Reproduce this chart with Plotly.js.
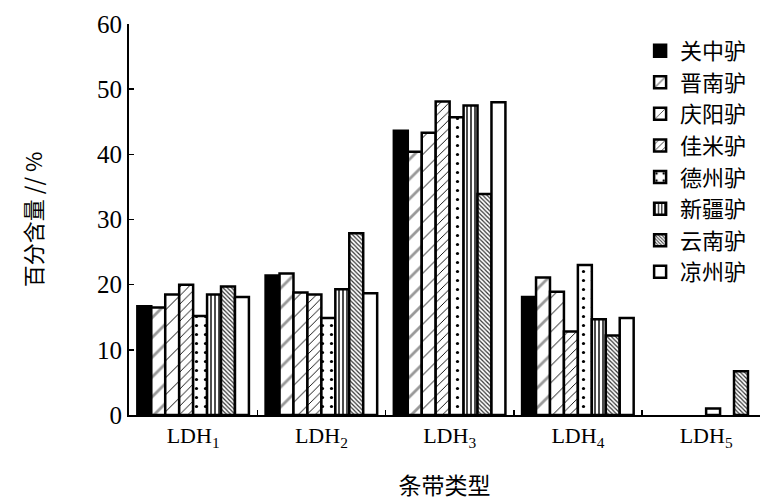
<!DOCTYPE html>
<html><head><meta charset="utf-8">
<script src="https://cdn.plot.ly/plotly-3.0.1.min.js"></script>
<style>html,body{margin:0;padding:0;background:#fff}#chart{width:768px;height:501px}</style>
</head><body><div id="chart"></div>
<script>
const categories = ["LDH<sub>1</sub>","LDH<sub>2</sub>","LDH<sub>3</sub>","LDH<sub>4</sub>","LDH<sub>5</sub>"];
const seriesNames = ["关中驴","晋南驴","庆阳驴","佳米驴","德州驴","新疆驴","云南驴","凉州驴"];
const guanzhong = [16.7, 21.4, 43.6, 18.1, null];
const jinnan    = [16.5, 21.7, 40.4, 21.1, null];
const qingyang  = [18.5, 18.8, 43.3, 18.9, null];
const jiami     = [20.0, 18.5, 48.1, 12.8, null];
const dezhou    = [15.2, 14.9, 45.7, 23.0, 1.0];
const xinjiang  = [18.5, 19.3, 47.5, 14.7, null];
const yunnan    = [19.7, 27.9, 33.9, 12.2, 6.7];
const liangzhou = [18.1, 18.7, 48.0, 14.9, null];
const seriesValues = [guanzhong, jinnan, qingyang, jiami, dezhou, xinjiang, yunnan, liangzhou];

const styles = [
  {color:"#000", pattern:{shape:""}},
  {color:"#fff", pattern:{shape:"/", fgcolor:"#999", bgcolor:"#fff", size:14, solidity:0.2}},
  {color:"#fff", pattern:{shape:"/", fgcolor:"#000", bgcolor:"#fff", size:12, solidity:0.08}},
  {color:"#fff", pattern:{shape:"/", fgcolor:"#000", bgcolor:"#fff", size:6, solidity:0.15}},
  {color:"#fff", pattern:{shape:".", fgcolor:"#000", bgcolor:"#fff", size:9, solidity:0.1}},
  {color:"#fff", pattern:{shape:"|", fgcolor:"#000", bgcolor:"#fff", size:4, solidity:0.35}},
  {color:"#fff", pattern:{shape:"\\", fgcolor:"#333", bgcolor:"#fff", size:3, solidity:0.4}},
  {color:"#fff", pattern:{shape:""}}
];

const traces = seriesNames.map((n,i)=>({
  type:"bar", name:n, x:categories, y:seriesValues[i],
  marker:{color:styles[i].color, pattern:styles[i].pattern, line:{color:"#000", width:2.5}}
}));

const layout = {
  width:768, height:501,
  margin:{l:129, r:8, t:24, b:86},
  paper_bgcolor:"#fff", plot_bgcolor:"#fff",
  barmode:"group", bargap:0.13, bargroupgap:0,
  font:{family:"Liberation Serif, serif", color:"#000"},
  xaxis:{
    range:[-0.5,4.42], showgrid:false, zeroline:false,
    showline:true, linecolor:"#000", linewidth:2,
    ticks:"inside", tickson:"boundaries", ticklen:5, tickwidth:1.5, tickcolor:"#000",
    tickfont:{family:"Liberation Serif, serif", size:22, color:"#000"},
    title:{text:"条带类型", font:{family:"Noto Sans CJK SC", size:23, color:"#000"}, standoff:30}
  },
  yaxis:{
    range:[0,60], dtick:10, showgrid:false, zeroline:false,
    showline:true, linecolor:"#000", linewidth:2,
    ticks:"inside", ticklen:5, tickwidth:1.5, tickcolor:"#000",
    tickfont:{family:"Liberation Serif, serif", size:25, color:"#000"},
    title:{text:"百分含量 // %", font:{family:"Noto Sans CJK SC", size:22, color:"#000"}, standoff:48}
  },
  legend:{x:0.81, y:0.985, xanchor:"left", yanchor:"top",
    font:{family:"Noto Sans CJK SC", size:22, color:"#000"}, tracegroupgap:0,
    bgcolor:"rgba(0,0,0,0)", itemwidth:30}
};
Plotly.newPlot("chart", traces, layout, {displayModeBar:false, staticPlot:true});
</script></body></html>
